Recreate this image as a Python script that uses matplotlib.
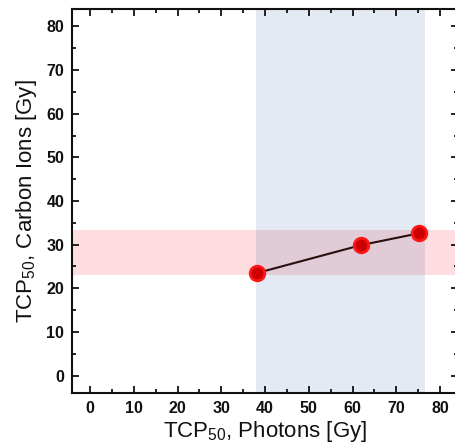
import matplotlib
matplotlib.use("Agg")
import matplotlib.pyplot as plt
from matplotlib.patches import Rectangle
from matplotlib.ticker import MultipleLocator

plt.rcParams["mathtext.fontset"] = "custom"
plt.rcParams["mathtext.rm"] = "Liberation Sans"
plt.rcParams["mathtext.it"] = "Liberation Sans"
plt.rcParams["mathtext.bf"] = "Liberation Sans:bold"
plt.rcParams["font.family"] = ["Liberation Sans", "DejaVu Sans"]

# Data
photon_tcp50 = [38.2, 62.0, 75.2]
carbon_tcp50 = [23.5, 29.9, 32.6]
photon_range = [38.0, 76.5]
carbon_range = [23.0, 33.3]
ticks = [0, 10, 20, 30, 40, 50, 60, 70, 80]

fig = plt.figure(figsize=(4.56, 4.45), dpi=100)
W, H = 456, 445
left, right, top, bottom = 72.5, 457.5, 9, 393
ax = fig.add_axes([left / W, 1 - bottom / H, (right - left) / W, (bottom - top) / H])

ax.set_xlim(-4, 84)
ax.set_ylim(-4, 84)

blue = "#e3eaf4"
pink = "#fddde0"
overlap = "#e1cbd6"
ax.axvspan(photon_range[0], photon_range[1], color=blue, lw=0, zorder=0)
ax.axhspan(carbon_range[0], carbon_range[1], color=pink, lw=0, zorder=0.5)
ax.add_patch(Rectangle((photon_range[0], carbon_range[0]),
                       photon_range[1] - photon_range[0],
                       carbon_range[1] - carbon_range[0],
                       facecolor=overlap, lw=0, zorder=0.6))

ax.plot(photon_tcp50, carbon_tcp50, color="#2a0f0f", lw=1.5, zorder=2)
ax.plot(photon_tcp50, carbon_tcp50, ls="none", marker="o", markersize=10.5,
        markerfacecolor="#cc0000", markeredgecolor="#ff1515", markeredgewidth=2,
        zorder=3)

ax.set_xticks(ticks)
ax.set_yticks(ticks)
ax.xaxis.set_minor_locator(MultipleLocator(5))
ax.yaxis.set_minor_locator(MultipleLocator(5))
ax.tick_params(which="both", direction="in", top=True, right=True, width=1.3,
               color="#111111")
ax.tick_params(which="major", length=5, pad=6)
ax.tick_params(which="minor", length=3)
for lab in ax.get_xticklabels() + ax.get_yticklabels():
    lab.set_fontfamily("Liberation Sans")
    lab.set_fontweight("bold")
    lab.set_fontsize(11.5)
    lab.set_color("#111111")

for sp in ax.spines.values():
    sp.set_linewidth(1.5)
    sp.set_color("#111111")

ax.set_xlabel("TCP$_{50}$, Photons [Gy]", fontsize=16, color="#111111", labelpad=2)
ax.set_ylabel("TCP$_{50}$, Carbon Ions [Gy]", fontsize=16, color="#111111", labelpad=5)

fig.savefig("out.png", dpi=100)
